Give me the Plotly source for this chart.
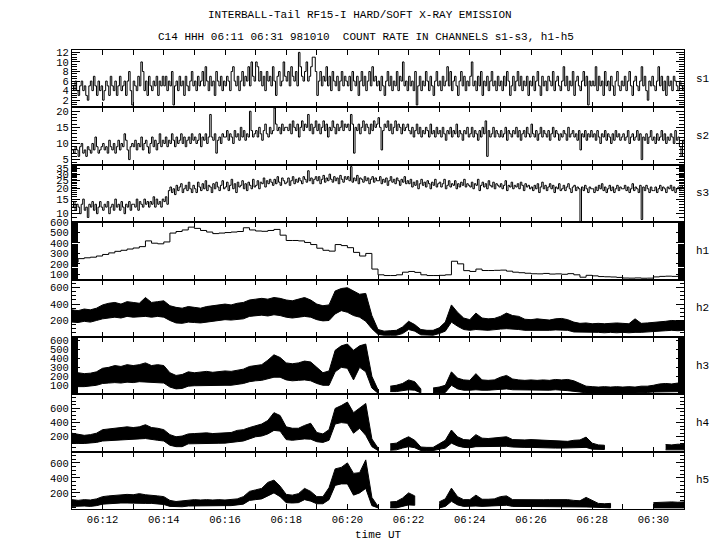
import plotly.graph_objects as go
from plotly.subplots import make_subplots

# ---------------- data ----------------
# time in minutes after 06:00 UT
s_time = [round(11 + 0.05 * i, 2) for i in range(401)]
h_time = [round(11 + 0.2 * i, 1) for i in range(101)]

# one row per minute (06:11 ... 06:30), 20 samples each, plus the final sample
s1 = [5, 4, 6, 4, 3, 5, 6, 4, 5, 3, 2, 5, 6, 4, 7, 5, 3, 6, 4, 5,
      2, 4, 6, 5, 3, 7, 5, 4, 6, 3, 5, 7, 4, 5, 6, 3, 6, 8, 4, 1,
      6, 5, 4, 7, 5, 10, 8, 4, 6, 3, 7, 5, 4, 6, 5, 7, 3, 6, 5, 7,
      5, 7, 4, 6, 5, 8, 1, 5, 6, 4, 7, 5, 6, 3, 7, 5, 4, 6, 8, 5,
      6, 4, 7, 5, 6, 8, 5, 9, 6, 4, 7, 5, 6, 3, 8, 6, 5, 7, 4, 6,
      5, 7, 6, 4, 8, 9, 6, 5, 7, 4, 6, 8, 5, 7, 6, 9, 5, 10, 7, 6,
      10, 9, 6, 8, 5, 7, 4, 8, 6, 7, 5, 9, 6, 3, 7, 8, 5, 6, 10, 7,
      6, 8, 5, 9, 7, 6, 8, 5, 12, 9, 7, 6, 8, 10, 6, 7, 9, 11, 11, 8,
      3, 6, 8, 5, 7, 6, 9, 5, 7, 4, 8, 6, 5, 7, 4, 6, 8, 5, 7, 6,
      5, 7, 4, 8, 6, 5, 7, 3, 6, 8, 5, 7, 4, 6, 8, 5, 9, 6, 7, 5,
      6, 4, 7, 5, 3, 6, 8, 5, 7, 4, 6, 5, 8, 4, 7, 6, 10, 5, 6, 4,
      7, 5, 6, 4, 8, 1, 5, 7, 4, 6, 5, 8, 6, 4, 7, 5, 3, 6, 8, 5,
      6, 4, 7, 5, 6, 9, 5, 8, 4, 6, 7, 5, 3, 6, 8, 5, 7, 4, 6, 5,
      7, 10, 5, 6, 4, 7, 5, 8, 3, 6, 5, 7, 4, 6, 8, 5, 6, 4, 7, 5,
      6, 4, 7, 5, 8, 6, 3, 5, 7, 4, 6, 8, 5, 7, 4, 6, 5, 7, 3, 6,
      5, 7, 4, 6, 8, 5, 3, 7, 5, 6, 4, 7, 6, 5, 8, 4, 6, 7, 5, 4,
      6, 9, 5, 7, 4, 6, 5, 8, 3, 6, 7, 5, 4, 6, 8, 5, 7, 1, 6, 5,
      6, 5, 9, 4, 7, 5, 6, 3, 8, 5, 6, 4, 7, 5, 3, 6, 8, 5, 4, 6,
      5, 7, 4, 6, 8, 5, 3, 6, 7, 5, 4, 6, 9, 5, 7, 4, 2, 6, 5, 7,
      5, 4, 6, 9, 5, 7, 4, 6, 3, 7, 5, 6, 4, 7, 6, 5, 4, 6, 5, 4,
      5]

s2 = [8, 7, 9, 8, 6, 9, 10, 7, 8, 6, 9, 8, 7, 10, 8, 12, 9, 7, 8, 9,
      10, 8, 9, 7, 11, 9, 8, 10, 7, 9, 11, 8, 10, 9, 13, 11, 8, 5, 9, 10,
      9, 11, 8, 10, 9, 12, 8, 10, 11, 9, 7, 10, 12, 9, 11, 8, 10, 13, 9, 11,
      10, 12, 9, 11, 10, 13, 11, 9, 12, 10, 11, 13, 10, 12, 9, 11, 12, 10, 13, 11,
      12, 10, 11, 13, 9, 12, 11, 13, 10, 12, 19, 12, 11, 13, 7, 11, 12, 10, 13, 12,
      12, 14, 11, 13, 12, 10, 14, 12, 13, 11, 15, 12, 14, 11, 13, 12, 20, 14, 12, 13,
      14, 12, 15, 13, 11, 14, 16, 13, 12, 15, 13, 14, 21, 16, 14, 15, 13, 16, 14, 15,
      15, 14, 16, 13, 17, 15, 14, 16, 12, 15, 17, 14, 16, 15, 19, 14, 16, 13, 15, 17,
      14, 16, 13, 15, 17, 14, 16, 12, 15, 14, 17, 15, 13, 16, 14, 15, 17, 14, 16, 15,
      16, 14, 19, 16, 7, 15, 14, 16, 13, 15, 17, 14, 16, 15, 13, 16, 14, 17, 15, 16,
      18, 15, 8, 14, 16, 15, 17, 14, 16, 13, 15, 17, 14, 16, 15, 13, 16, 14, 15, 16,
      14, 13, 15, 12, 14, 16, 13, 15, 12, 14, 13, 15, 14, 12, 16, 13, 14, 12, 15, 13,
      14, 12, 15, 13, 11, 14, 13, 15, 12, 14, 13, 16, 12, 14, 13, 11, 14, 13, 15, 12,
      13, 15, 12, 14, 13, 11, 14, 12, 15, 13, 17, 6, 14, 12, 13, 15, 12, 14, 13, 12,
      14, 12, 13, 15, 11, 14, 13, 12, 14, 13, 15, 12, 14, 11, 13, 14, 12, 15, 13, 12,
      16, 13, 12, 14, 11, 13, 15, 12, 14, 13, 12, 14, 11, 13, 15, 12, 14, 13, 11, 13,
      12, 14, 13, 11, 15, 12, 13, 14, 12, 13, 11, 14, 8, 13, 12, 14, 11, 13, 12, 14,
      12, 13, 11, 14, 12, 10, 13, 12, 14, 11, 13, 12, 10, 13, 11, 14, 12, 13, 11, 12,
      13, 11, 12, 14, 10, 12, 13, 11, 12, 14, 11, 13, 5, 12, 11, 13, 10, 12, 14, 11,
      12, 10, 13, 11, 12, 14, 11, 13, 10, 12, 11, 13, 12, 10, 14, 11, 12, 9, 6, 11,
      10]

s3 = [12, 14, 11, 13, 12, 10, 13, 15, 11, 12, 9, 13, 12, 14, 11, 13, 10, 12, 14, 12,
      11, 13, 12, 14, 10, 12, 13, 11, 15, 12, 13, 11, 14, 12, 10, 13, 12, 14, 11, 13,
      13, 12, 15, 11, 14, 13, 12, 15, 13, 14, 12, 14, 13, 16, 12, 15, 13, 14, 12, 15,
      14, 16, 13, 19, 21, 18, 20, 17, 22, 19, 21, 23, 18, 20, 22, 19, 24, 20, 18, 22,
      20, 18, 24, 21, 19, 23, 20, 25, 19, 22, 21, 18, 23, 20, 24, 21, 19, 22, 25, 20,
      21, 24, 19, 22, 26, 20, 23, 18, 24, 21, 22, 25, 20, 23, 19, 24, 22, 20, 26, 21,
      22, 25, 20, 24, 23, 27, 21, 25, 23, 26, 24, 22, 26, 23, 28, 24, 22, 27, 25, 23,
      24, 27, 22, 25, 28, 23, 26, 24, 27, 25, 23, 28, 26, 24, 33, 25, 27, 23, 26, 28,
      25, 28, 23, 26, 29, 24, 27, 25, 30, 26, 24, 28, 25, 27, 23, 29, 26, 24, 28, 26,
      28, 25, 37, 24, 27, 25, 29, 23, 27, 26, 24, 28, 25, 27, 23, 26, 28, 24, 27, 25,
      25, 28, 23, 26, 24, 27, 22, 25, 28, 24, 26, 23, 27, 25, 22, 26, 24, 28, 23, 25,
      23, 26, 21, 24, 22, 25, 20, 23, 26, 22, 24, 21, 25, 23, 20, 24, 22, 26, 21, 23,
      24, 21, 23, 26, 20, 22, 25, 21, 23, 22, 25, 20, 23, 21, 24, 22, 26, 21, 23, 22,
      21, 24, 20, 23, 22, 26, 19, 22, 24, 21, 23, 20, 25, 22, 21, 24, 20, 23, 22, 21,
      23, 20, 22, 25, 19, 22, 21, 24, 20, 22, 21, 23, 20, 24, 22, 19, 23, 21, 22, 20,
      21, 19, 22, 20, 23, 18, 21, 24, 20, 22, 19, 21, 23, 20, 22, 18, 21, 20, 23, 19,
      20, 22, 19, 21, 23, 20, 18, 21, 22, 19, 21, 20, 8, 21, 19, 22, 20, 18, 21, 20,
      20, 18, 21, 19, 22, 20, 23, 19, 21, 18, 20, 22, 19, 21, 18, 20, 22, 19, 21, 20,
      20, 22, 19, 21, 18, 20, 23, 19, 21, 20, 18, 22, 8.5, 21, 19, 22, 20, 18, 21, 19,
      19, 21, 18, 20, 22, 19, 21, 20, 18, 21, 20, 22, 19, 21, 18, 20, 21, 19, 22, 20,
      20]

h1 = [216, 250, 258, 264, 275,
      290, 305, 320, 330, 342,
      352, 365, 420, 398, 392,
      410, 495, 510, 525, 552,
      540, 520, 505, 490, 495,
      500, 505, 510, 546, 525,
      515, 512, 520, 530, 475,
      424, 424, 420, 405, 385,
      350, 330, 322, 385, 375,
      355, 310, 275, 300, 150,
      95, 88, 88, 95, 120,
      127, 118, 95, 88, 88,
      90, 95, 225, 200, 135,
      127, 150, 136, 136, 138,
      140, 130, 120, 115, 110,
      105, 104, 108, 102, 104,
      100, 106, 95, 72, 90,
      85, 78, 76, 74, 70,
      64, 63, 65, 62, 63,
      75, 80, 82, 80, 84,
      85]

# noisy channels h2-h5: upper / lower envelope of the dense trace (None = no data)
h2_hi = [330, 320, 340, 330, 350, 390, 410, 420, 400, 430, 420, 410, 480, 420, 430,
         440, 380, 360, 350, 370, 360, 350, 370, 380, 390, 400, 390, 410, 420, 450,
         460, 470, 460, 480, 470, 450, 440, 460, 480, 450, 400, 380, 390, 560, 590,
         600, 560, 520, 530, 260, 90, 70, 75, 80, 120, 190, 150, 90, 80, 80,
         110, 180, 390, 300, 230, 210, 290, 230, 220, 225, 250, 290, 260, 250, 215,
         210, 220, 215, 205, 220, 225, 210, 180, 165, 170, 160, 165, 160, 165, 170,
         165, 160, 220, 165, 170, 175, 185, 190, 200, 195, 200]
h2_lo = [180, 175, 190, 180, 200, 220, 230, 240, 230, 250, 240, 245, 250, 240, 250,
         240, 200, 170, 165, 180, 175, 170, 185, 190, 200, 210, 205, 215, 220, 250,
         260, 265, 255, 270, 260, 240, 230, 240, 250, 240, 210, 195, 200, 280, 320,
         300, 260, 240, 190, 100, 30, 20, 20, 20, 40, 90, 70, 25, 20, 20,
         40, 70, 180, 130, 90, 80, 90, 85, 80, 85, 95, 100, 95, 90, 80,
         80, 85, 80, 80, 85, 85, 80, 60, 55, 55, 55, 55, 50, 55, 50,
         55, 50, 55, 55, 60, 60, 70, 75, 80, 75, 80]

h3_hi = [300, 240, 230, 235, 250, 290, 300, 320, 310, 330, 320, 330, 350, 320, 330,
         320, 240, 210, 220, 250, 240, 250, 255, 245, 250, 260, 255, 270, 280, 310,
         320, 330, 380, 440, 410, 350, 340, 350, 370, 360, 300, 240, 260, 490, 540,
         560, 490, 540, 560, 200, 50, None, 90, 100, 120, 160, 140, 60, None, 70,
         80, 100, 250, 180, 160, 155, 230, 160, 155, 160, 190, 210, 170, 160, 155,
         160, 155, 160, 155, 165, 160, 165, 150, 120, 90, 85, 80, 85, 80, 85,
         80, 85, 80, 90, 90, 100, 115, 120, 115, 125, 120]
h3_lo = [90, 85, 85, 90, 100, 120, 125, 130, 125, 135, 130, 140, 135, 130, 130,
         125, 80, 60, 65, 90, 95, 95, 100, 95, 100, 100, 100, 110, 120, 140,
         150, 155, 170, 190, 190, 160, 150, 155, 160, 150, 120, 100, 100, 250, 300,
         290, 160, 300, 250, 70, 12, None, 30, 30, 40, 50, 45, 15, None, 15,
         15, 20, 100, 60, 45, 45, 50, 45, 45, 45, 55, 60, 50, 45, 45,
         45, 45, 45, 45, 50, 45, 40, 35, 25, 15, 15, 15, 15, 15, 15,
         15, 15, 15, 15, 20, 25, 30, 30, 30, 30, 30]

h4_hi = [250, 230, 220, 230, 250, 300, 310, 320, 330, 340, 330, 340, 370, 330, 320,
         300, 230, 200, 210, 240, 245, 250, 255, 245, 250, 255, 260, 290, 300, 330,
         360, 380, 430, 540, 500, 340, 320, 320, 360, 390, 260, 240, 300, 600, 640,
         690, 540, 600, 670, 170, 40, None, 100, 110, 160, 200, 150, 55, 50, 50,
         100, 150, 295, 200, 160, 155, 230, 180, 175, 180, 195, 200, 160, 155, 155,
         160, 155, 150, 140, 135, 130, 135, 150, 155, 195, 110, 85, 80, None, None,
         None, None, None, None, None, None, None, 90, 85, 95, 90]
h4_lo = [110, 105, 105, 110, 120, 140, 150, 160, 165, 170, 165, 170, 175, 160, 150,
         140, 80, 60, 60, 100, 105, 105, 110, 105, 108, 110, 115, 130, 140, 170,
         200, 210, 240, 290, 280, 160, 150, 155, 170, 165, 130, 120, 150, 380, 400,
         390, 250, 320, 220, 60, 5, None, 10, 15, 40, 60, 45, 5, 5, 5,
         20, 40, 110, 70, 50, 45, 60, 60, 60, 60, 65, 65, 55, 50, 50,
         50, 50, 50, 45, 40, 40, 40, 45, 45, 50, 25, 20, 20, None, None,
         None, None, None, None, None, None, None, 15, 15, 15, 15]

h5_hi = [110, 100, 110, 105, 120, 150, 160, 170, 175, 180, 175, 190, 175, 170, 160,
         150, 100, 85, 90, 105, 110, 105, 110, 105, 110, 105, 110, 120, 150, 220,
         240, 260, 340, 370, 290, 180, 170, 190, 260, 220, 150, 150, 270, 520, 540,
         600, 460, 470, 640, 140, 20, None, 80, 85, 130, 200, 160, None, None, None,
         80, 120, 263, 150, 110, 110, 170, 115, 115, 120, 150, 160, 110, 108, 110,
         108, 112, 108, 110, 112, 108, 110, 100, 95, 140, 95, 60, 55, 60, None,
         None, None, None, None, None, 70, 75, 70, 80, 75, 80]
h5_lo = [20, 20, 25, 20, 30, 50, 55, 60, 65, 65, 60, 65, 60, 60, 55,
         45, 20, 15, 15, 25, 30, 30, 30, 25, 30, 30, 30, 35, 50, 100,
         110, 120, 160, 200, 150, 70, 65, 70, 110, 90, 55, 55, 110, 300, 320,
         320, 170, 200, 260, 30, 0, None, 0, 0, 20, 40, 35, None, None, None,
         0, 20, 87, 40, 20, 20, 25, 20, 20, 20, 30, 35, 20, 20, 20,
         20, 20, 20, 20, 20, 20, 20, 15, 12, 12, 10, 5, 0, 0, None,
         None, None, None, None, None, 0, 0, 0, 0, 0, 0]

x_tick_minutes = [11, 12, 13, 14, 15, 16, 17, 18, 19, 20, 21, 22, 23, 24, 25, 26, 27, 28, 29, 30, 31]
x_tick_labels = ["", "06:12", "", "06:14", "", "06:16", "", "06:18", "", "06:20", "",
                 "06:22", "", "06:24", "", "06:26", "", "06:28", "", "06:30", ""]

panel_names = ["s1", "s2", "s3", "h1", "h2", "h3", "h4", "h5"]

title_text = "INTERBALL-Tail RF15-I HARD/SOFT X-RAY EMISSION"
subtitle_text = "C14 HHH 06:11 06:31 981010  COUNT RATE IN CHANNELS s1-s3, h1-h5"

# ---------------- figure ----------------
FONT = "Liberation Mono"
fig = make_subplots(rows=8, cols=1, shared_xaxes=True, vertical_spacing=0)

line = dict(color="black", width=1, shape="hv")
fig.add_trace(go.Scatter(x=s_time, y=s1, mode="lines", line=line), row=1, col=1)
fig.add_trace(go.Scatter(x=s_time, y=s2, mode="lines", line=line), row=2, col=1)
fig.add_trace(go.Scatter(x=s_time, y=s3, mode="lines", line=line), row=3, col=1)
fig.add_trace(go.Scatter(x=h_time, y=h1, mode="lines", line=line), row=4, col=1)


def add_band(t, lo, hi, row):
    seg_t, seg_lo, seg_hi = [], [], []
    runs = []
    for tt, a, b in zip(t, lo, hi):
        if b is None or a is None:
            if seg_t:
                runs.append((seg_t, seg_lo, seg_hi))
            seg_t, seg_lo, seg_hi = [], [], []
        else:
            seg_t.append(tt); seg_lo.append(a); seg_hi.append(b)
    if seg_t:
        runs.append((seg_t, seg_lo, seg_hi))
    for st, sl, sh in runs:
        fig.add_trace(go.Scatter(x=st + st[::-1], y=sh + sl[::-1], mode="lines",
                                 fill="toself", fillcolor="black",
                                 line=dict(color="black", width=1)), row=row, col=1)


add_band(h_time, h2_lo, h2_hi, 5)
add_band(h_time, h3_lo, h3_hi, 6)
add_band(h_time, h4_lo, h4_hi, 7)
add_band(h_time, h5_lo, h5_hi, 8)

tickfont = dict(family=FONT, size=10.5, color="black")
common_axis = dict(showline=True, linecolor="black", linewidth=1, mirror="ticks",
                   ticks="inside", tickcolor="black", tickwidth=1, showgrid=False,
                   zeroline=False, tickfont=tickfont)

for r in range(1, 9):
    fig.update_xaxes(row=r, col=1, range=[11, 31], tickmode="array",
                     tickvals=x_tick_minutes, ticktext=x_tick_labels, ticklen=5,
                     showticklabels=(r == 8), **common_axis)

yspecs = [
    dict(range=[0.5, 12.5], tickvals=[2, 4, 6, 8, 10, 12], minor=dict(dtick=0.5, ticklen=5)),
    dict(range=[3.4, 21.2], tickvals=[5, 10, 15, 20], minor=dict(dtick=1, ticklen=5)),
    dict(type="log", range=[0.898, 1.591], tickvals=[10, 15, 20, 25, 30, 35],
         minor=dict(tickmode="array", tickvals=list(range(8, 40)), ticklen=5)),
    dict(range=[50, 600], tickvals=[100, 200, 300, 400, 500, 600], minor=dict(dtick=10, ticklen=6)),
    dict(range=[0, 700], tickvals=[200, 400, 600], minor=dict(dtick=50, ticklen=4)),
    dict(range=[0, 640], tickvals=[100, 200, 300, 400, 500, 600], minor=dict(dtick=10, ticklen=6)),
    dict(range=[-10, 800], tickvals=[200, 400, 600], minor=dict(dtick=50, ticklen=4)),
    dict(range=[-15, 750], tickvals=[200, 400, 600], minor=dict(dtick=50, ticklen=4)),
]
for r, spec in enumerate(yspecs, start=1):
    minor = dict(ticks="inside", tickcolor="black", tickwidth=1, showgrid=False)
    minor.update(spec.pop("minor"))
    fig.update_yaxes(row=r, col=1, tickmode="array", ticklen=8, minor=minor,
                     **spec, **common_axis)

annotations = [
    dict(text=title_text, x=(360 - 72) / 612, y=1.076, xref="paper", yref="paper",
         showarrow=False, xanchor="center", yanchor="middle",
         font=dict(family=FONT, size=11, color="black")),
    dict(text=subtitle_text, x=(366 - 72) / 612, y=1.028, xref="paper", yref="paper",
         showarrow=False, xanchor="center", yanchor="middle",
         font=dict(family=FONT, size=11, color="black")),
    dict(text="time UT", x=0.5, y=-0.056, xref="paper", yref="paper",
         showarrow=False, xanchor="center", yanchor="middle",
         font=dict(family=FONT, size=11, color="black")),
]
for i, name in enumerate(panel_names, start=1):
    yref = "y domain" if i == 1 else f"y{i} domain"
    annotations.append(dict(text=name, x=1.016, y=0.5, xref="paper", yref=yref,
                            showarrow=False, xanchor="left", yanchor="middle",
                            font=dict(family=FONT, size=11, color="black")))

# the page body adds an 8 px margin, so the figure is made 8 px smaller and the
# left/top margins reduced by 8 px to land the plot area where the reference has it
fig.update_layout(
    width=712, height=542,
    margin=dict(l=64, r=36, t=42, b=41),
    paper_bgcolor="white", plot_bgcolor="white",
    showlegend=False,
    annotations=annotations,
)

fig.write_html("out.html")
